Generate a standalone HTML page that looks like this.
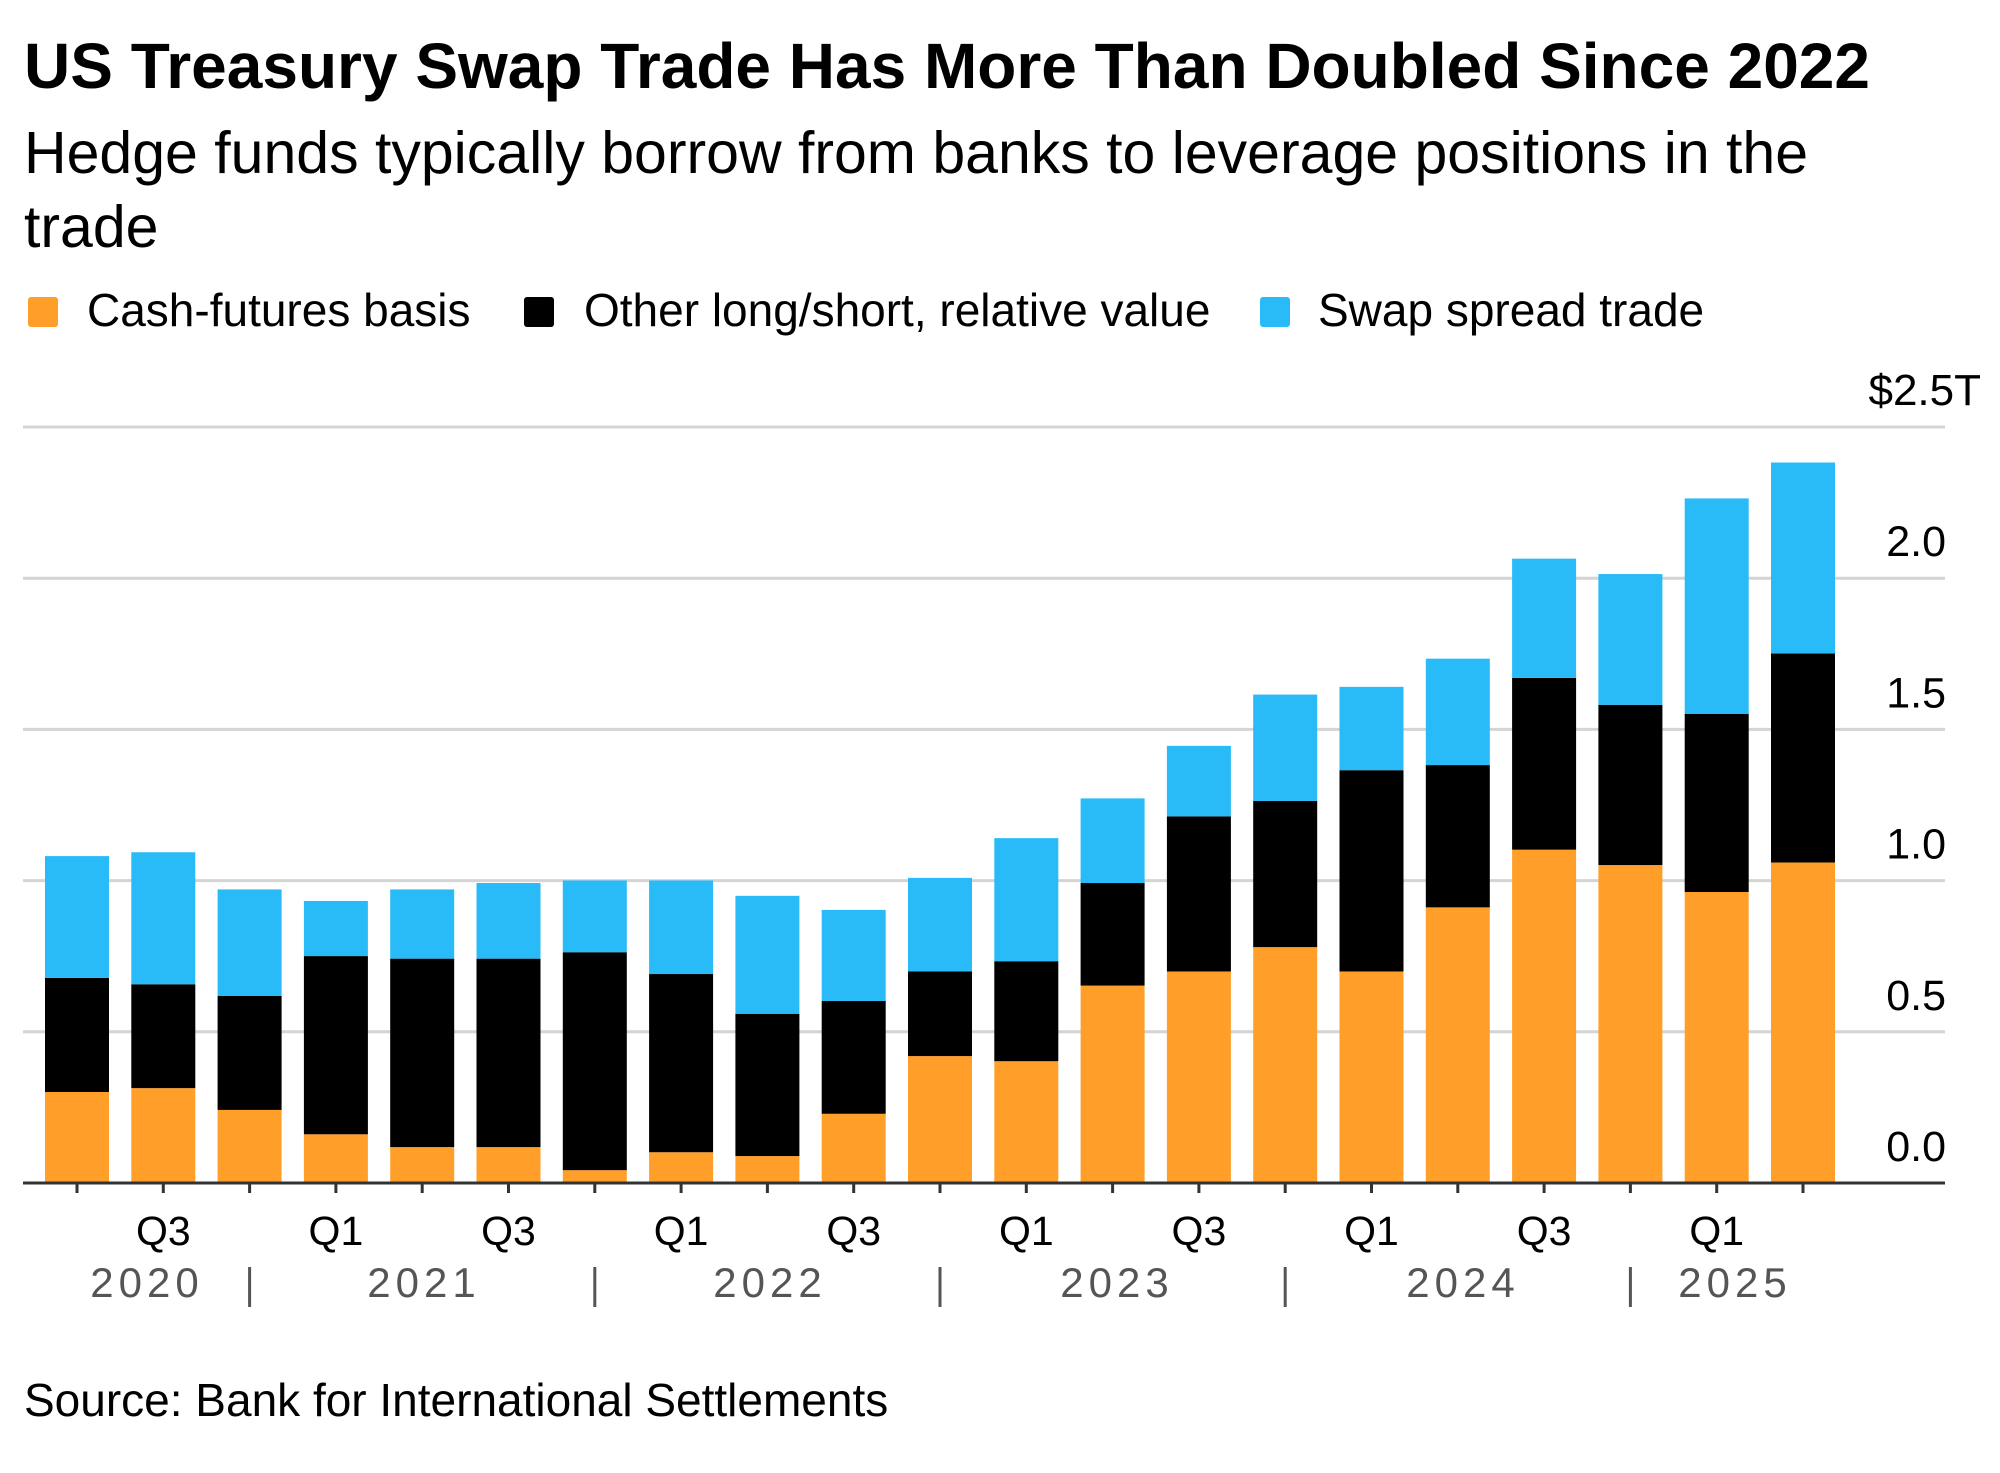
<!DOCTYPE html>
<html><head><meta charset="utf-8"><style>
body{margin:0;background:#fff;width:2000px;height:1468px;overflow:hidden;font-family:"Liberation Sans",Arial,sans-serif}
</style></head><body>
<svg id="s" width="2000" height="1468" xmlns="http://www.w3.org/2000/svg" font-family="Liberation Sans, Arial, sans-serif">
<text x="24" y="88" font-size="64" font-weight="bold" fill="#000">US Treasury Swap Trade Has More Than Doubled Since 2022</text>
<text x="24" y="173" font-size="59" fill="#000">Hedge funds typically borrow from banks to leverage positions in the</text>
<text x="24" y="247" font-size="59" fill="#000">trade</text>
<rect x="28" y="297" width="30" height="30" rx="3" fill="#ff9f2a"/>
<text x="87" y="326" font-size="46">Cash-futures basis</text>
<rect x="524" y="297" width="30" height="30" rx="3" fill="#000"/>
<text x="584" y="326" font-size="46">Other long/short, relative value</text>
<rect x="1260" y="297" width="30" height="30" rx="3" fill="#29bbf7"/>
<text x="1318" y="326" font-size="46">Swap spread trade</text>
<g id="grid"></g>
<g id="bars"></g>
<text x="1981" y="405" font-size="44" text-anchor="end">$2.5T</text>
<text x="24" y="1416" font-size="46">Source: Bank for International Settlements</text>
</svg>
<script>
var s='',y0=1183,unit=302.4;
var labs=['0.0','0.5','1.0','1.5','2.0'];
for(var i=0;i<=5;i++){var y=y0-i*unit/2;
 if(i>0)s+='<line x1="23" x2="1945" y1="'+y+'" y2="'+y+'" stroke="#d4d4d4" stroke-width="3"/>';
 if(i<5)s+='<text x="1946" y="'+(y-22)+'" font-size="43" text-anchor="end">'+labs[i]+'</text>';}
document.getElementById('grid').innerHTML=s;
var d=[[855,766,671],[852,771,668],[869,780,697],[888,749,706],[898,751,697],[898,751,692],[916,746,690],[902,763,690],[905,794,702],[872,784,713],[827,761,688],[831,753,657],[772,692,626],[761,640,585],[742,628,545],[761,604,539],[711,600,517],[666,532,439],[678,553,451],[699,560,392],[676,513,364]];
function f(v){return (v-926)*1.282+y0;}
var b='';
for(var i=0;i<21;i++){var x=45+i*86.3,c=x+32,o=f(d[i][0]),k=f(d[i][1]),u=f(d[i][2]);
 b+='<rect x="'+x+'" y="'+o+'" width="64" height="'+(y0-o)+'" fill="#ff9f2a"/>';
 b+='<rect x="'+x+'" y="'+k+'" width="64" height="'+(o-k)+'" fill="#000"/>';
 b+='<rect x="'+x+'" y="'+u+'" width="64" height="'+(k-u)+'" fill="#29bbf7"/>';
 b+='<line x1="'+c+'" x2="'+c+'" y1="'+y0+'" y2="1193" stroke="#333" stroke-width="3"/>';
 if(i%2==1)b+='<text x="'+c+'" y="1245" font-size="41" text-anchor="middle">'+(i%4==1?'Q3':'Q1')+'</text>';
 if(i%4==2)b+='<line x1="'+c+'" x2="'+c+'" y1="1267" y2="1307" stroke="#555" stroke-width="3"/>';
}
b+='<line x1="23" x2="1945" y1="'+y0+'" y2="'+y0+'" stroke="#333" stroke-width="3"/>';
var yrs=[['2020',147],['2021',424],['2022',770],['2023',1117],['2024',1463],['2025',1735]];
yrs.forEach(function(a){b+='<text x="'+a[1]+'" y="1297" font-size="42" fill="#555" letter-spacing="5" text-anchor="middle">'+a[0]+'</text>';});
document.getElementById('bars').innerHTML=b;
</script>
</body></html>
